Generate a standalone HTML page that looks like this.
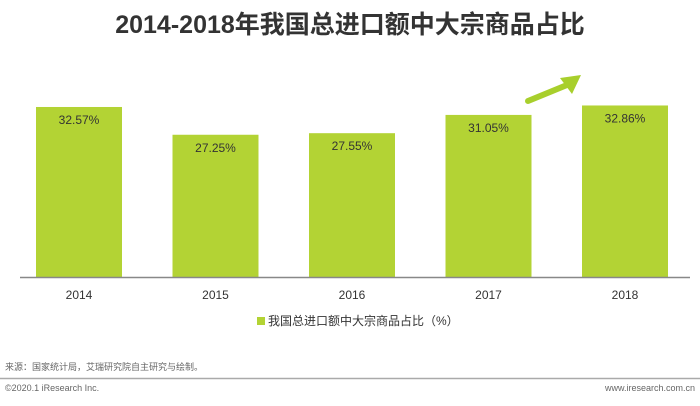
<!DOCTYPE html>
<html><head><meta charset="utf-8"><style>
body{margin:0;width:700px;height:401px;background:#fff;overflow:hidden;font-family:"Liberation Sans","Noto Sans CJK SC",sans-serif;}
</style></head><body>
<svg width="700" height="401" id="chart">
<text x="350" y="33" text-anchor="middle" font-size="25" font-weight="bold" fill="#333">2014-2018年我国总进口额中大宗商品占比</text>
<g id="bars"></g>
<line x1="20" x2="690" y1="277.5" y2="277.5" stroke="#888" stroke-width="1.5"/>
<g>
<path d="M528,101 Q550,92 567,85" fill="none" stroke="#a8cf2c" stroke-width="6" stroke-linecap="round"/>
<path d="M560,78 L581,75 L572,94 Z" fill="#a8cf2c"/>
</g>
<rect x="257" y="317" width="8" height="8" fill="#b3d334"/>
<text x="268" y="325" font-size="12" fill="#333">我国总进口额中大宗商品占比（%）</text>
<text x="5" y="370" font-size="9" fill="#666">来源：国家统计局，艾瑞研究院自主研究与绘制。</text>
<line x1="0" x2="700" y1="378.5" y2="378.5" stroke="#aaa" stroke-width="1.5"/>
<text x="5" y="391" font-size="9" fill="#666">©2020.1 iResearch Inc.</text>
<text x="695" y="391" font-size="9" fill="#666" text-anchor="end">www.iresearch.com.cn</text>
</svg>
<script>
const categories=["2014","2015","2016","2017","2018"];
const values=[32.57,27.25,27.55,31.05,32.86];
const labels=["32.57%","27.25%","27.55%","31.05%","32.86%"];
const ns="http://www.w3.org/2000/svg";
const g=document.getElementById("bars");
const base=277,pxPer=5.22,x0=36,step=136.5,bw=86;
function xs(i){return x0+i*step;}
function ys(v){return base-v*pxPer;}
categories.forEach((c,i)=>{
  const r=document.createElementNS(ns,"rect");
  r.setAttribute("x",xs(i));r.setAttribute("y",ys(values[i]));
  r.setAttribute("width",bw);r.setAttribute("height",base-ys(values[i]));
  r.setAttribute("fill","#b3d334");
  
  
  g.appendChild(r);
  const t=document.createElementNS(ns,"text");
  t.setAttribute("x",xs(i)+bw/2);t.setAttribute("y",ys(values[i])+17);
  t.setAttribute("text-anchor","middle");t.setAttribute("font-size","12");t.setAttribute("fill","#333");
  t.textContent=labels[i];
  
  
  g.appendChild(t);
  const y=document.createElementNS(ns,"text");
  y.setAttribute("x",xs(i)+bw/2);y.setAttribute("y",299);
  y.setAttribute("text-anchor","middle");y.setAttribute("font-size","12");y.setAttribute("fill","#333");
  y.textContent=c;
  
  
  g.appendChild(y);
});
</script>
</body></html>
